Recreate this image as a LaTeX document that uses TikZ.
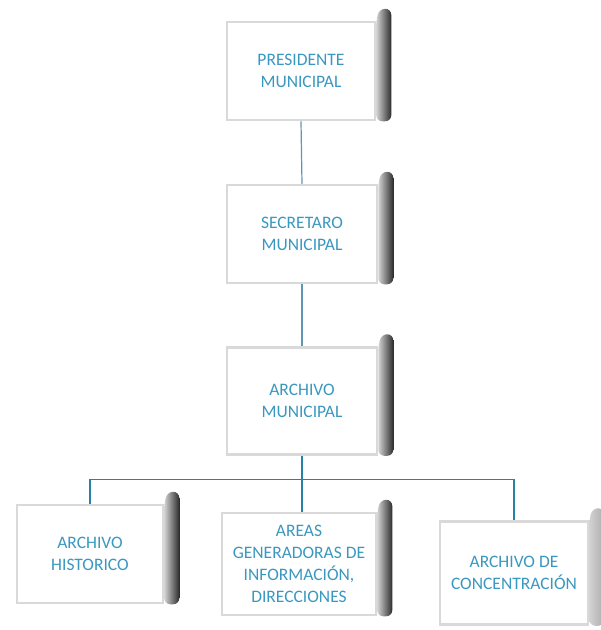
\documentclass[tikz,border=0pt]{standalone}
\usepackage{fontspec}
\setmainfont{Carlito}
\usetikzlibrary{calc}

\definecolor{texto}{RGB}{58,152,192}
\definecolor{lineaA}{RGB}{95,150,180}
\definecolor{lineaB}{RGB}{40,130,165}

\tikzset{
  cuadro/.style={draw=gray!30, line width=2.5pt, fill=white, text=texto,
    align=center, font=\fontsize{17.5}{22}\selectfont, inner sep=2pt},
}

% lado oscuro a la derecha de cada cuadro
\newcommand{\lado}[2]{%
  \shade[left color=gray!35, right color=#2, rounded corners=6pt]
    (#1.north east) -- ($(#1.north east)+(3,-12)$) -- ($(#1.north east)+(15,-12)$)
    -- ($(#1.south east)+(15,0)$) -- (#1.south east) -- cycle;}

\begin{document}
\begin{tikzpicture}[x=1pt, y=-1pt]
    \useasboundingbox (0,0) rectangle (601,630);

    \node[cuadro, minimum width=148pt, minimum height=98pt] (pres) at (301,71) {PRESIDENTE\\MUNICIPAL};
    \node[cuadro, minimum width=150pt, minimum height=98pt] (secr) at (302,234) {SECRETARO\\MUNICIPAL};
    \node[cuadro, minimum width=150pt, minimum height=107pt] (arch) at (302,401) {ARCHIVO\\MUNICIPAL};

    \node[cuadro, minimum width=146pt, minimum height=98pt] (hist) at (90,554) {ARCHIVO\\HISTORICO};
    \node[cuadro, minimum width=154pt, minimum height=102pt] (areas) at (299,564) {AREAS\\GENERADORAS DE\\INFORMACIÓN,\\DIRECCIONES};
    \node[cuadro, minimum width=148pt, minimum height=103pt] (conc) at (514,573) {ARCHIVO DE\\CONCENTRACIÓN};

    % sombras
    \lado{pres}{gray!35!black}
    \lado{secr}{gray!35!black}
    \lado{arch}{gray!35!black}
    \lado{hist}{gray!35!black}
    \lado{areas}{gray!35!black}
    \lado{conc}{gray!65}

    % lineas
    \draw[lineaA, line width=1.2pt] (pres.south) -- (secr.north);
    \draw[lineaA, line width=1.2pt] (secr.south) -- (arch.north);
    \draw[lineaB, line width=1.2pt] (arch.south) -- ++(0,24) coordinate (barra);
    \draw[lineaB, line width=1.2pt] (hist.north) |- (barra) -| (conc.north);
    \draw[lineaB, line width=1.2pt] (barra) -- (barra |- areas.north);
\end{tikzpicture}
\end{document}
